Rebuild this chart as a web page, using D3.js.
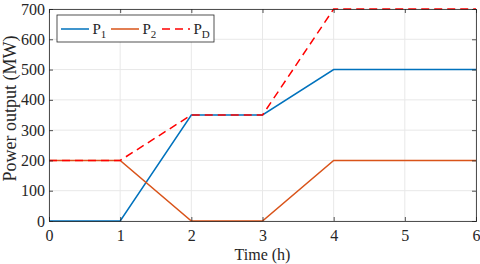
<!DOCTYPE html>
<html>
<head>
<meta charset="utf-8">
<script src="https://cdn.jsdelivr.net/npm/d3@7"></script>
<style>
  body { margin: 0; background: #fff; }
  svg { display: block; }
</style>
</head>
<body>
<svg id="chart" width="480" height="264" font-family="Liberation Serif"></svg>
<script>
const hours = [0, 1, 2, 3, 4, 6];
const p1 = [0, 0, 350, 350, 500, 500];
const p2 = [200, 200, 0, 0, 200, 200];
const pd = [200, 200, 350, 350, 700, 700];
const xTicks = [0, 1, 2, 3, 4, 5, 6];
const yTicks = [0, 100, 200, 300, 400, 500, 600, 700];

const series = [
  { name: 'P', sub: '1', values: p1, color: '#0072bd', dash: null },
  { name: 'P', sub: '2', values: p2, color: '#d95319', dash: null },
  { name: 'P', sub: 'D', values: pd, color: '#ff0000', dash: '8,5' }
];

const FONT = 'Liberation Serif';
const margin = { left: 49, right: 4, top: 9, bottom: 43 };
const width = 480, height = 264;
const svg = d3.select('#chart');

const x = d3.scaleLinear().domain([0, 6]).range([margin.left, width - margin.right]);
const y = d3.scaleLinear().domain([0, 700]).range([height - margin.bottom, margin.top]);

// grid
const grid = svg.append('g').attr('stroke', '#e8e8e8').attr('stroke-width', 1);
xTicks.forEach(t => {
  grid.append('line').attr('x1', x(t)).attr('x2', x(t)).attr('y1', y(0)).attr('y2', y(700));
});
yTicks.forEach(t => {
  grid.append('line').attr('x1', x(0)).attr('x2', x(6)).attr('y1', y(t)).attr('y2', y(t));
});

// lines
const line = d3.line().x((d, i) => x(hours[i])).y(d => y(d));
series.forEach(s => {
  svg.append('path')
    .datum(s.values)
    .attr('fill', 'none')
    .attr('stroke', s.color)
    .attr('stroke-width', 1.5)
    .attr('stroke-dasharray', s.dash)
    .attr('d', line);
});

// axes (box with inward ticks)
const axisColor = '#262626';
svg.append('g').attr('transform', `translate(0,${y(0)})`)
  .call(d3.axisBottom(x).tickValues(xTicks).tickSize(-4).tickPadding(9).tickFormat(d3.format('d')));
svg.append('g').attr('transform', `translate(${x(0)},0)`)
  .call(d3.axisLeft(y).tickValues(yTicks).tickSize(-4).tickPadding(4).tickFormat(d3.format('d')));
svg.append('g').attr('transform', `translate(0,${y(700)})`)
  .call(d3.axisTop(x).tickValues(xTicks).tickSize(-4).tickFormat(''));
svg.append('g').attr('transform', `translate(${x(6)},0)`)
  .call(d3.axisRight(y).tickValues(yTicks).tickSize(-4).tickFormat(''));
svg.selectAll('.domain').attr('stroke', axisColor).attr('stroke-width', 0.8);
svg.selectAll('.tick line').attr('stroke', axisColor).attr('stroke-width', 0.8);
svg.selectAll('.tick text')
  .attr('fill', axisColor)
  .attr('font-family', FONT)
  .attr('font-size', 16);

// axis titles
svg.append('text')
  .attr('x', x(3)).attr('y', 259.5)
  .attr('text-anchor', 'middle')
  .attr('font-family', FONT)
  .attr('font-size', 16).attr('fill', axisColor)
  .text('Time (h)');
svg.append('text')
  .attr('transform', `translate(16,108.5) rotate(-90)`)
  .attr('text-anchor', 'middle')
  .attr('font-family', FONT)
  .attr('font-size', 18).attr('fill', axisColor)
  .text('Power output (MW)');

// legend
const lg = svg.append('g').attr('transform', 'translate(57,15)');
lg.append('rect').attr('width', 157).attr('height', 27)
  .attr('fill', '#fff').attr('stroke', axisColor).attr('stroke-width', 0.8);
const itemX = [4, 54, 105];
series.forEach((s, i) => {
  const g = lg.append('g').attr('transform', `translate(${itemX[i]},14)`);
  g.append('line').attr('x1', 0).attr('x2', 28).attr('y1', 0).attr('y2', 0)
    .attr('stroke', s.color).attr('stroke-width', 1.5).attr('stroke-dasharray', s.dash);
  const t = g.append('text').attr('x', 31.5).attr('y', 4.5)
    .attr('font-family', FONT)
    .attr('font-size', 15).attr('fill', axisColor);
  t.append('tspan').text(s.name);
  t.append('tspan').attr('font-size', 11).attr('dy', 4).text(s.sub);
});
</script>
</body>
</html>
